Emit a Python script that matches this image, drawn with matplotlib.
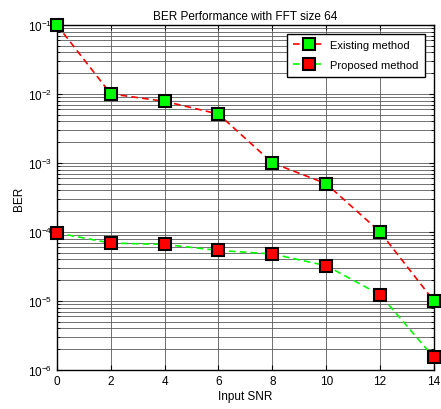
import numpy as np
import matplotlib
matplotlib.use("Agg")
import matplotlib.pyplot as plt

plt.rcParams['font.family'] = ['Liberation Sans', 'DejaVu Sans']

snr = [0, 2, 4, 6, 8, 10, 12, 14]
ber_existing = [1e-1, 1e-2, 7.8e-3, 5.1e-3, 1e-3, 5e-4, 1e-4, 1e-5]
ber_proposed = [9.7e-5, 6.9e-5, 6.6e-5, 5.4e-5, 4.8e-5, 3.25e-5, 1.23e-5, 1.52e-6]

fig = plt.figure(figsize=(4.41, 4.10), dpi=100)
ax = fig.add_axes([0.129, 0.095, 0.855, 0.842])

ax.semilogy(snr, ber_existing, '--s', color='red', lw=1.2, ms=8,
            markerfacecolor='#00ff00', markeredgecolor='black', mew=1.5,
            dashes=(4, 2.5), label='Existing method', clip_on=False, zorder=3)
ax.semilogy(snr, ber_proposed, '--s', color='#00ff00', lw=1.2, ms=8,
            markerfacecolor='red', markeredgecolor='black', mew=1.5,
            dashes=(4, 2.5), label='Proposed method', clip_on=False, zorder=3)

ax.set_xlim(0, 14)
ax.set_ylim(1e-6, 1e-1)
ax.set_xticks(snr)
ax.grid(True, which='major', color='0.35', lw=0.6)
ax.grid(True, which='minor', axis='y', color='0.35', lw=0.6)
ax.tick_params(which='both', direction='in', top=True, right=True, labelsize=8.5)
for s in ax.spines.values():
    s.set_linewidth(1.0)

ax.set_title('BER Performance with FFT size 64', fontsize=8.5, pad=4)
ax.set_xlabel('Input SNR', fontsize=8.5, labelpad=2)
ax.set_ylabel('BER', fontsize=8.5, labelpad=2)

leg = ax.legend(loc='upper right', fontsize=8, fancybox=False, framealpha=1,
                edgecolor='black', borderaxespad=0.8, handlelength=2.8,
                handletextpad=0.5, labelspacing=0.9, borderpad=0.6)
leg.get_frame().set_linewidth(1.0)

fig.savefig('out.png', dpi=100, facecolor='white')
